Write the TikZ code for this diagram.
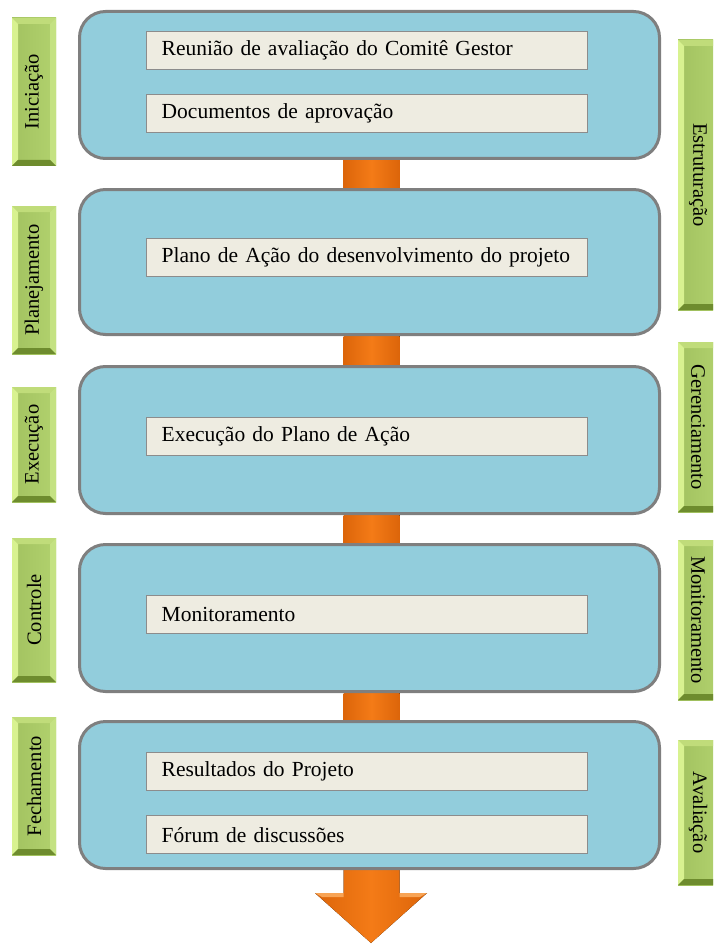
\documentclass[tikz,border=0pt]{standalone}
\usepackage{fontspec}
\setmainfont{Liberation Serif}
\usetikzlibrary{backgrounds}

\definecolor{boxblue}{HTML}{92CDDC}
\definecolor{boxedge}{HTML}{7F7F7F}
\definecolor{itemfill}{HTML}{EEECE1}
\definecolor{itemedge}{HTML}{8C8C8C}
\definecolor{barmid}{HTML}{F47B17}
\definecolor{baredge}{HTML}{DC650A}
\definecolor{barlight}{HTML}{F8A455}
\definecolor{tabface}{HTML}{A2C260}
\definecolor{tabfacer}{HTML}{B2D26E}
\definecolor{tabtop}{HTML}{C0DC7A}
\definecolor{tableft}{HTML}{D8F290}
\definecolor{tabright}{HTML}{C4E282}
\definecolor{tabbottom}{HTML}{6E8C2E}

\tikzset{
  phase/.style={draw=boxedge, line width=3pt, fill=boxblue, rounded corners=26pt,
    minimum width=580pt, inner sep=0pt, anchor=north west},
  item/.style={draw=itemedge, line width=1.4pt, fill=itemfill, anchor=north west,
    text width=411pt, align=left, inner xsep=15pt, inner ysep=0pt, minimum height=38pt,
    font=\fontsize{21.5}{24}\selectfont},
  tab/.style={left color=tabface, right color=tabfacer, minimum width=44pt,
    inner sep=0pt, outer sep=0pt, anchor=north west},
  tablabel/.style={font=\fontsize{20.5}{23}\selectfont, inner sep=0pt},
  bar/.style={left color=baredge, right color=baredge, middle color=barmid},
}

% bevelled rim of a green tab node
\newcommand{\tabrim}[1]{%
  \fill[tabtop] (#1.north west) -- (#1.north east) -- ([shift={(-6pt,-6pt)}]#1.north east)
    -- ([shift={(6pt,-6pt)}]#1.north west) -- cycle;
  \fill[tableft] (#1.north west) -- ([shift={(6pt,-6pt)}]#1.north west)
    -- ([shift={(6pt,6pt)}]#1.south west) -- (#1.south west) -- cycle;
  \fill[tabright] (#1.north east) -- ([shift={(-6pt,-6pt)}]#1.north east)
    -- ([shift={(-6pt,6pt)}]#1.south east) -- (#1.south east) -- cycle;
  \fill[tabbottom] (#1.south west) -- ([shift={(6pt,6pt)}]#1.south west)
    -- ([shift={(-6pt,6pt)}]#1.south east) -- (#1.south east) -- cycle;
}

\begin{document}
\begin{tikzpicture}[x=1pt, y=-1pt]
  \clip (0,0) rectangle (713,944);
  \useasboundingbox (0,0) rectangle (713,944);

  % process phases
  \node[phase, minimum height=147pt] (p1) at (78,10) {};
  \node[phase, minimum height=145pt] (p2) at (78,188) {};
  \node[phase, minimum height=147pt] (p3) at (78,365) {};
  \node[phase, minimum height=147pt] (p4) at (78,543) {};
  \node[phase, minimum height=147pt] (p5) at (78,720) {};

  % activities
  \node[item] (a1) at (146,31) {Reunião de avaliação do Comitê Gestor};
  \node[item] (a2) at (146,94) {Documentos de aprovação};
  \node[item] (a3) at (146,238) {Plano de Ação do desenvolvimento do projeto};
  \node[item] (a4) at (146,417) {Execução do Plano de Ação};
  \node[item] (a5) at (146,595) {Monitoramento};
  \node[item] (a6) at (146,752) {Resultados do Projeto};
  \node[item] (a7) at (146,815) {Fórum de discussões};

  % orange flow between phases
  \coordinate (sL) at ([xshift=-26pt]p5.south);
  \coordinate (sR) at ([xshift=30pt]p5.south);
  \coordinate (headL) at (315,893);
  \coordinate (headR) at (427,893);
  \coordinate (tip) at (371,943);
  \begin{scope}[on background layer]
    \foreach \a/\b in {p1/p2, p2/p3, p3/p4, p4/p5}
      \fill[bar] ([xshift=-26pt]\a.south) rectangle ([xshift=30pt]\b.north);
    \fill[bar] (sL) -- (sL |- headL) -- (headL)
      -- (tip) -- (headR) -- (sR |- headR) -- (sR) -- cycle;
  \end{scope}
  \fill[barlight] (headL) -- (sL |- headL) -- ([yshift=-4pt]sL |- headL) -- (322,897) -- cycle;
  \fill[barlight] (sR |- headR) -- (headR) -- (420,897) -- ([yshift=-4pt]sR |- headR) -- cycle;

  % phase names, left column
  \node[tab, minimum height=148pt] (l1) at (12,18) {};
  \node[tab, minimum height=148pt] (l2) at (12,206) {};
  \node[tab, minimum height=115pt] (l3) at (12,387) {};
  \node[tab, minimum height=144pt] (l4) at (12,538) {};
  \node[tab, minimum height=138pt] (l5) at (12,717) {};
  \foreach \t in {l1,l2,l3,l4,l5} {\tabrim{\t}}
  \node[tablabel, rotate=90] at (l1.center) {Iniciação};
  \node[tablabel, rotate=90] at (l2.center) {Planejamento};
  \node[tablabel, rotate=90] at (l3.center) {Execução};
  \node[tablabel, rotate=90] at (l4.center) {Controle};
  \node[tablabel, rotate=90] at (l5.center) {Fechamento};

  % management stages, right column
  \node[tab, minimum height=270pt] (r1) at (678,40) {};
  \node[tab, minimum height=170pt] (r2) at (678,342) {};
  \node[tab, minimum height=160pt] (r3) at (678,540) {};
  \node[tab, minimum height=145pt] (r4) at (678,740) {};
  \foreach \t in {r1,r2,r3,r4} {\tabrim{\t}}
  \node[tablabel, rotate=-90] at ([xshift=-2pt]r1.center) {Estruturação};
  \node[tablabel, rotate=-90] at ([xshift=-2pt]r2.center) {Gerenciamento};
  \node[tablabel, rotate=-90] at ([xshift=-2pt]r3.center) {Monitoramento};
  \node[tablabel, rotate=-90] at ([xshift=-2pt]r4.center) {Avaliação};
\end{tikzpicture}
\end{document}
